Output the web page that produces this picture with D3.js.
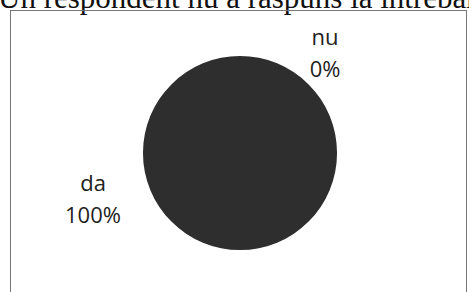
<!DOCTYPE html>
<html>
<head>
<meta charset="utf-8">
<script src="https://cdn.jsdelivr.net/npm/d3@7"></script>
<style>
  html, body { margin: 0; padding: 0; background: #fff; overflow: hidden; }
</style>
</head>
<body>
<svg id="chart"></svg>
<script>
  var categories = ["da", "nu"];
  var values = [100, 0];
  var percentLabels = ["100%", "0%"];

  var width = 469,
    height = 292;

  var svg = d3.select("#chart")
    .attr("width", width)
    .attr("height", height);

  // heading from the page, cut off at the top
  svg.append("text")
    .attr("x", -2)
    .attr("y", 8)
    .attr("font-family", "Liberation Serif, Times New Roman, serif")
    .attr("font-size", "31px")
    .attr("fill", "#111")
    .text("Un respondent nu a răspuns la întrebare");

  // chart frame
  svg.append("rect")
    .attr("x", 10.5)
    .attr("y", 10.5)
    .attr("width", 456)
    .attr("height", 300)
    .attr("fill", "none")
    .attr("stroke", "#777")
    .attr("stroke-width", 1);

  var cx = 240,
    cy = 153,
    radius = 97;

  var pie = d3.pie().sort(null)(values);
  var arc = d3.arc().innerRadius(0).outerRadius(radius);

  var g = svg.append("g")
    .attr("transform", "translate(" + cx + "," + cy + ")");

  g.selectAll("path")
    .data(pie)
    .enter().append("path")
    .attr("d", arc)
    .attr("fill", "#2e2e2e")
    .attr("stroke", "none");

  // label anchors (angle from top, distance from centre)
  var labelPos = [
    { angle: -1.923, dist: 156.6 },
    { angle: 0.746, dist: 125.3 }
  ];

  var labels = g.selectAll("g.label")
    .data(pie)
    .enter().append("g")
    .attr("class", "label")
    .attr("transform", function(d, i) {
      var p = labelPos[i];
      return "translate(" + (Math.sin(p.angle) * p.dist) + "," + (-Math.cos(p.angle) * p.dist) + ")";
    });

  labels.append("text")
    .attr("text-anchor", "middle")
    .attr("y", -16)
    .attr("font-family", "Open Sans, sans-serif")
    .attr("font-size", "22px")
    .attr("fill", "#222")
    .text(function(d, i) { return categories[i]; });

  labels.append("text")
    .attr("text-anchor", "middle")
    .attr("y", 16)
    .attr("font-family", "Open Sans, sans-serif")
    .attr("font-size", "22px")
    .attr("fill", "#222")
    .text(function(d, i) { return percentLabels[i]; });
</script>
</body>
</html>
